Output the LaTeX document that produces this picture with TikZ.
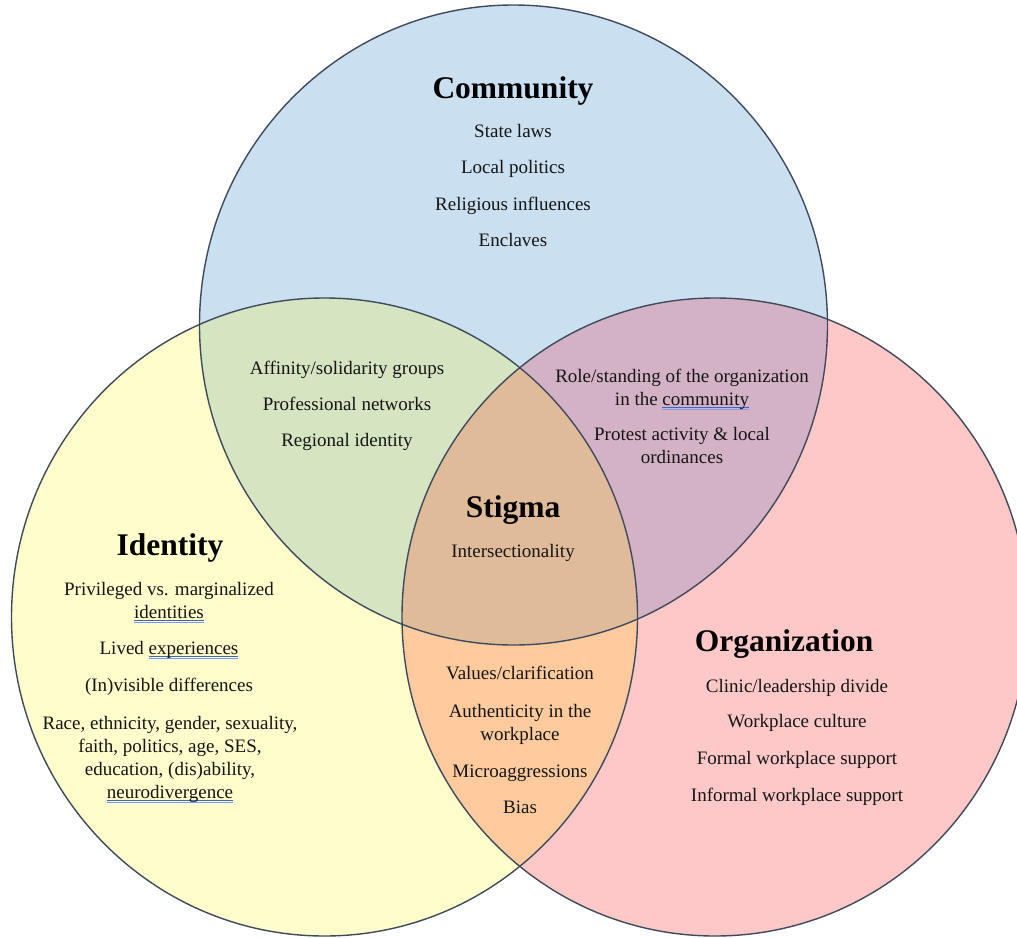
\documentclass[tikz,border=0pt]{standalone}
\usepackage{fontspec}
\setmainfont{Liberation Serif}
\definecolor{ringline}{HTML}{3F4B5C}
\definecolor{commfill}{HTML}{CADFF0}
\definecolor{identfill}{HTML}{FEFDCB}
\definecolor{orgfill}{HTML}{FFC8C8}
\definecolor{cifill}{HTML}{D5E4C1}
\definecolor{cofill}{HTML}{D4B2C6}
\definecolor{iofill}{HTML}{FFCB9E}
\definecolor{allfill}{HTML}{DFBB9A}
\definecolor{spellblue}{HTML}{3F63D2}
\definecolor{spelllight}{HTML}{7F9DE6}
\definecolor{inktext}{HTML}{151515}
% double blue proofing underline beneath a word
\newcommand\proofmark[1]{\setbox0\hbox{#1}%
  \rlap{\color{spellblue}\rule[-3.4pt]{\wd0}{1pt}}%
  \rlap{\color{spelllight}\rule[-5.4pt]{\wd0}{1pt}}\box0}
\begin{document}
\begin{tikzpicture}[x=1pt,y=-1pt,
  % multi-line items are placed by the baseline of their last line
  item/.style={anchor=base,align=center,text=inktext,inner sep=0pt,
    font=\fontsize{19}{23}\selectfont},
  heading/.style={anchor=base,text=black,inner sep=0pt,
    font=\fontsize{31.5}{35}\selectfont\bfseries},
  ring/.style={draw=ringline,line width=1.4pt}]
\useasboundingbox (0,0) rectangle (1017,937);
\clip (0,0) rectangle (1017,937);
\def\commring{(513.5,325) ellipse [x radius=314pt,y radius=320pt]}
\def\identring{(324.5,617) ellipse [x radius=313pt,y radius=319pt]}
\def\orgring{(715,617) ellipse [x radius=313pt,y radius=319pt]}
% base discs
\fill[commfill] \commring;
\fill[identfill] \identring;
\fill[orgfill] \orgring;
% pairwise overlaps
\begin{scope}\clip \commring; \fill[cifill] \identring; \end{scope}
\begin{scope}\clip \commring; \fill[cofill] \orgring; \end{scope}
\begin{scope}\clip \identring; \fill[iofill] \orgring; \end{scope}
% triple overlap
\begin{scope}\clip \commring; \clip \identring; \fill[allfill] \orgring; \end{scope}
% outlines
\draw[ring] \commring;
\draw[ring] \identring;
\draw[ring] \orgring;

% Community
\node[heading] (commhead) at (513,98) {Community};
\node[item] (comm1) at (513,137) {State laws};
\node[item] (comm2) at (513,173) {Local politics};
\node[item] (comm3) at (513,210) {Religious influences};
\node[item] (comm4) at (513,246) {Enclaves};

% Community & Identity
\node[item] (ci1) at (347,374) {Affinity/solidarity groups};
\node[item] (ci2) at (347,410) {Professional networks};
\node[item] (ci3) at (347,446) {Regional identity};

% Community & Organization
\node[item] (co1) at (682,405) {Role/standing of the organization\\in the \proofmark{community}};
\node[item] (co2) at (682,463) {Protest activity \& local\\ordinances};

% centre
\node[heading] (stighead) at (513,517) {Stigma};
\node[item] (stig1) at (513,557) {Intersectionality};

% Identity
\node[heading] (identhead) at (170,555) {Identity};
\node[item] (ident1) at (169,618) {Privileged vs. marginalized\\\proofmark{identities}};
\node[item] (ident2) at (169,654) {Lived \proofmark{experiences}};
\node[item] (ident3) at (169,691) {(In)visible differences};
\node[item] (ident4) at (170,798) {Race, ethnicity, gender, sexuality,\\faith, politics, age, SES,\\education, (dis)ability,\\\proofmark{neurodivergence}};

% Identity & Organization
\node[item] (io1) at (520,679) {Values/clarification};
\node[item] (io2) at (520,740) {Authenticity in the\\workplace};
\node[item] (io3) at (520,777) {Microaggressions};
\node[item] (io4) at (520,813) {Bias};

% Organization
\node[heading] (orghead) at (784,651) {Organization};
\node[item] (org1) at (797,692) {Clinic/leadership divide};
\node[item] (org2) at (797,727) {Workplace culture};
\node[item] (org3) at (797,764) {Formal workplace support};
\node[item] (org4) at (797,801) {Informal workplace support};
\end{tikzpicture}
\end{document}
